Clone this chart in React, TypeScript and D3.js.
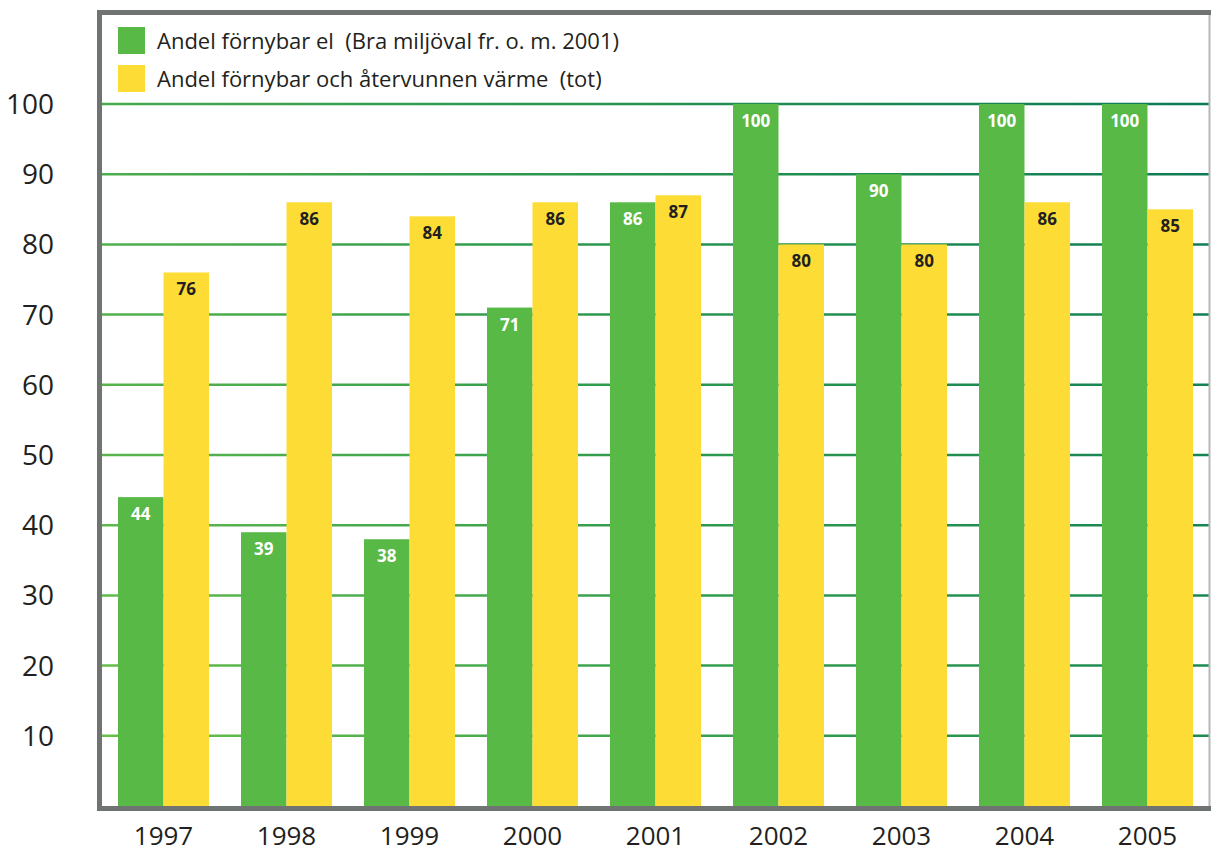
import * as d3 from 'd3'

const years = ['1997', '1998', '1999', '2000', '2001', '2002', '2003', '2004', '2005']
const elValues = [44, 39, 38, 71, 86, 100, 90, 100, 100]
const heatValues = [76, 86, 84, 86, 87, 80, 80, 86, 85]
const yTicks = [10, 20, 30, 40, 50, 60, 70, 80, 90, 100]
const seriesNames = [
  'Andel förnybar el  (Bra miljöval fr. o. m. 2001)',
  'Andel förnybar och återvunnen värme  (tot)',
]

const GREEN = '#58b947'
const YELLOW = '#fddd35'
const FONT = '"Open Sans", "DejaVu Sans", sans-serif'

const xScale0 = d3
  .scaleBand()
  .domain(years)
  .range([102, 1209])
  .paddingInner(0.26)
  .paddingOuter(0.13)

const xScale1 = d3
  .scaleBand()
  .domain(['el', 'heat'])
  .range([0, xScale0.bandwidth()])

const yScale = d3.scaleLinear().domain([0, 100]).range([806, 104])

export default function App() {
  const series = [
    { key: 'el', values: elValues, fill: GREEN, label: '#ffffff' },
    { key: 'heat', values: heatValues, fill: YELLOW, label: '#231f20' },
  ]

  return (
    <svg width={1211} height={853} style={{ position: 'absolute', left: 0, top: 0 }}>
      <defs>
        <linearGradient id="grid" gradientUnits="userSpaceOnUse" x1="102" y1="806" x2="1209" y2="104">
          <stop offset="0" stopColor="#6cc24a" />
          <stop offset="0.5" stopColor="#2e9a4e" />
          <stop offset="1" stopColor="#0b7a55" />
        </linearGradient>
      </defs>
      <rect x={0} y={0} width={1211} height={853} fill="#fff" />

      {/* grid lines */}
      {yTicks.map(t => (
        <line
          key={t}
          x1={102}
          x2={1209}
          y1={yScale(t)}
          y2={yScale(t)}
          stroke="url(#grid)"
          strokeWidth={2.5}
        />
      ))}

      {/* bars */}
      {years.map((year, i) => (
        <g key={year} transform={`translate(${xScale0(year)},0)`}>
          {series.map(s => (
            <rect
              key={s.key}
              x={xScale1(s.key)}
              y={yScale(s.values[i])}
              width={xScale1.bandwidth()}
              height={yScale(0) - yScale(s.values[i])}
              fill={s.fill}
            />
          ))}
          {series.map(s => (
            <text
              key={s.key + 'l'}
              x={xScale1(s.key)! + xScale1.bandwidth() / 2}
              y={yScale(s.values[i]) + 23}
              fill={s.label}
              fontFamily={FONT}
              fontWeight={700}
              fontSize={17}
              textAnchor="middle"
            >
              {s.values[i]}
            </text>
          ))}
        </g>
      ))}

      {/* frame */}
      <line x1={1209.5} x2={1209.5} y1={12} y2={808} stroke="#b8b8b8" strokeWidth={2} />
      <path d="M 99.5 808.5 V 12.5 H 1211" fill="none" stroke="#6f7472" strokeWidth={5} />
      <line x1={97} x2={1211} y1={808.5} y2={808.5} stroke="#6f7472" strokeWidth={5} />

      {/* y axis labels */}
      {yTicks.map(t => (
        <text
          key={t}
          x={54}
          y={yScale(t) + 10}
          fill="#231f20"
          fontFamily={FONT}
          fontSize={28}
          textAnchor="end"
        >
          {t}
        </text>
      ))}

      {/* x axis labels */}
      {years.map(year => (
        <text
          key={year}
          x={xScale0(year)! + xScale0.bandwidth() / 2}
          y={845}
          fill="#231f20"
          fontFamily={FONT}
          fontSize={26}
          textAnchor="middle"
        >
          {year}
        </text>
      ))}

      {/* legend */}
      {series.map((s, i) => (
        <g key={s.key}>
          <rect x={118} y={27 + i * 38} width={27} height={27} fill={s.fill} />
          <text
            x={157}
            y={49 + i * 38}
            fill="#231f20"
            fontFamily={FONT}
            fontSize={22}
            style={{ whiteSpace: 'pre' }}
          >
            {seriesNames[i]}
          </text>
        </g>
      ))}
    </svg>
  )
}
